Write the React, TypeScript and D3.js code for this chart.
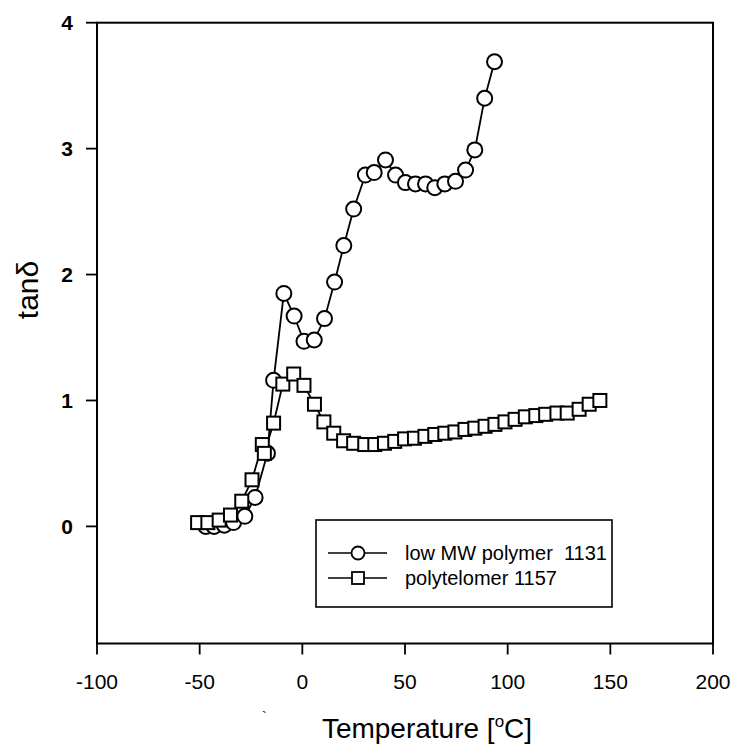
import React from "react";
import * as d3 from "d3";

const lowMwTemp = [-47, -43, -38, -33.5, -28, -23, -17, -14, -9, -4, 0.8, 5.8, 10.8, 15.7, 20.2, 25, 30.7, 35, 40.5, 45.4, 50.2, 55.1, 60, 64.5, 69.4, 74.6, 79.5, 84, 88.8, 93.6];
const lowMwTan = [0.0, 0.0, 0.01, 0.03, 0.08, 0.23, 0.58, 1.16, 1.85, 1.67, 1.47, 1.48, 1.65, 1.94, 2.23, 2.52, 2.79, 2.81, 2.91, 2.79, 2.73, 2.72, 2.72, 2.69, 2.72, 2.74, 2.83, 2.99, 3.4, 3.69];

const teloTemp = [-51, -46, -40.5, -35, -29.5, -24.5, -19.5, -18.5, -14, -9.5, -4.2, 0.8, 5.9, 10.5, 15.3, 20.1, 25, 30.4, 35.3, 40, 45, 49.8, 54.6, 59.7, 64.5, 69.4, 74.3, 79.2, 84, 89, 93.8, 98.7, 103.6, 108.6, 113.7, 118.5, 124, 129, 134.8, 139.7, 144.9];
const teloTan = [0.03, 0.03, 0.05, 0.09, 0.2, 0.37, 0.65, 0.58, 0.82, 1.13, 1.21, 1.12, 0.97, 0.83, 0.74, 0.68, 0.66, 0.65, 0.65, 0.66, 0.675, 0.695, 0.7, 0.715, 0.73, 0.74, 0.75, 0.77, 0.78, 0.795, 0.81, 0.83, 0.85, 0.87, 0.88, 0.89, 0.9, 0.9, 0.93, 0.97, 1.0];

const xTicks = [-100, -50, 0, 50, 100, 150, 200];
const yTicks = [0, 1, 2, 3, 4];
const seriesNames = ["low MW polymer  1131", "polytelomer 1157"];
const xTitle = "Temperature [";
const yTitle = "tanδ";

const FONT = "'Liberation Sans', Arial, sans-serif";

export default function App() {
  const x = d3.scaleLinear().domain([-100, 200]).range([97, 713]);
  const y = d3.scaleLinear().domain([-0.93, 4]).range([643.5, 22.7]);
  const [x0, x1] = x.range();
  const [yb, yt] = y.range();

  const lowPts: [number, number][] = lowMwTemp.map((t, i) => [t, lowMwTan[i]]);
  const teloPts: [number, number][] = teloTemp.map((t, i) => [t, teloTan[i]]);
  const line = d3
    .line<[number, number]>()
    .x((d) => x(d[0]))
    .y((d) => y(d[1]));

  const tickLen = 11;
  const sq = 13;

  return (
    <div style={{ position: "absolute", left: 0, top: 0 }}>
      <svg width={739} height={747} style={{ display: "block", background: "#fff" }}>
        <rect x={0} y={0} width={739} height={747} fill="#fff" />
        {/* frame */}
        <rect x={x0} y={yt} width={x1 - x0} height={yb - yt} fill="none" stroke="#000" strokeWidth={2} />
        {/* y ticks */}
        {yTicks.map((t) => (
          <g key={"y" + t}>
            <line x1={x0 - tickLen} x2={x0} y1={y(t)} y2={y(t)} stroke="#000" strokeWidth={1.8} />
            <text x={73} y={y(t) + 7.5} textAnchor="end" fontFamily={FONT} fontWeight="bold" fontSize={21} fill="#000">
              {t}
            </text>
          </g>
        ))}
        {/* x ticks */}
        {xTicks.map((t) => (
          <g key={"x" + t}>
            <line x1={x(t)} x2={x(t)} y1={yb} y2={yb + tickLen} stroke="#000" strokeWidth={1.8} />
            <text x={x(t)} y={689} textAnchor="middle" fontFamily={FONT} fontSize={21} fill="#000">
              {t}
            </text>
          </g>
        ))}
        {/* axis titles */}
        <text x={427} y={738} textAnchor="middle" fontFamily={FONT} fontSize={28} fill="#000">
          {xTitle}
          <tspan fontSize={17} dy={-11}>o</tspan>
          <tspan dy={11}>C]</tspan>
        </text>
        <text x={262} y={722} fontFamily={FONT} fontSize={14} fill="#000">`</text>
        <text
          transform={`translate(38, 290) rotate(-90)`}
          textAnchor="middle"
          fontFamily={FONT}
          fontSize={30}
          fill="#000"
        >
          {yTitle}
        </text>

        {/* low MW polymer series */}
        <path d={line(lowPts) || ""} fill="none" stroke="#000" strokeWidth={1.8} />
        {lowPts.map((d, i) => (
          <circle key={"c" + i} cx={x(d[0])} cy={y(d[1])} r={7.5} fill="#fff" stroke="#000" strokeWidth={2} />
        ))}
        {/* polytelomer series */}
        <path d={line(teloPts) || ""} fill="none" stroke="#000" strokeWidth={1.8} />
        {teloPts.map((d, i) => (
          <rect
            key={"s" + i}
            x={x(d[0]) - sq / 2}
            y={y(d[1]) - sq / 2}
            width={sq}
            height={sq}
            fill="#fff"
            stroke="#000"
            strokeWidth={2}
          />
        ))}

        {/* legend */}
        <rect x={316} y={520} width={296} height={87} fill="#fff" stroke="#000" strokeWidth={1.6} />
        <line x1={328} x2={387} y1={553} y2={553} stroke="#000" strokeWidth={1.6} />
        <circle cx={358} cy={553} r={6.5} fill="#fff" stroke="#000" strokeWidth={1.8} />
        <text x={405} y={560} fontFamily={FONT} fontSize={20} fill="#000" style={{ whiteSpace: "pre" }}>
          {seriesNames[0]}
        </text>
        <line x1={328} x2={387} y1={578} y2={578} stroke="#000" strokeWidth={1.6} />
        <rect x={352} y={572} width={12} height={12} fill="#fff" stroke="#000" strokeWidth={1.8} />
        <text x={405} y={585} fontFamily={FONT} fontSize={20} fill="#000" style={{ whiteSpace: "pre" }}>
          {seriesNames[1]}
        </text>
      </svg>
    </div>
  );
}
